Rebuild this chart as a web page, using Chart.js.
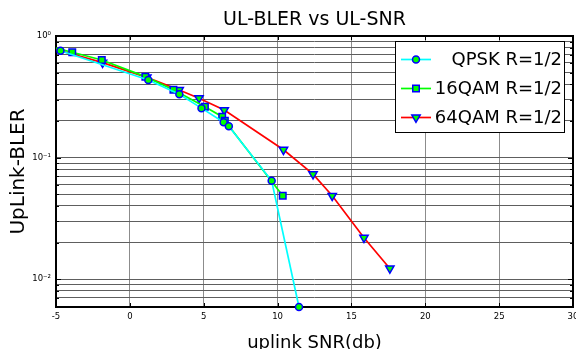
<!DOCTYPE html>
<html><head><meta charset="utf-8">
<script src="https://cdn.jsdelivr.net/npm/chart.js@4/dist/chart.umd.min.js"></script>
<style>html,body{margin:0;padding:0;background:#fff;overflow:hidden;}</style>
</head><body>
<canvas id="c" width="576" height="349"></canvas>
<script>
const chartTitle = 'UL-BLER vs UL-SNR';
const xAxisTitle = 'uplink SNR(db)';
const yAxisTitle = 'UpLink-BLER';
const seriesNames = ['QPSK R=1/2', '16QAM R=1/2', '64QAM R=1/2'];

const qpskSnr  = [-4.7, 1.25, 3.35, 4.85, 6.35, 6.7, 9.6, 11.45];
const qpskBler = [0.757, 0.435, 0.332, 0.255, 0.195, 0.181, 0.0644, 0.0059];

const qam16Snr  = [-5.4, -3.9, -1.9, 1.05, 2.95, 5.08, 6.25, 6.43, 10.35];
const qam16Bler = [0.82, 0.735, 0.635, 0.463, 0.362, 0.262, 0.217, 0.201, 0.0485];

const qam64Snr  = [-5.4, -1.85, 1.15, 3.34, 4.68, 6.39, 10.4, 12.4, 13.7, 15.85, 17.6];
const qam64Bler = [0.80, 0.604, 0.457, 0.36, 0.308, 0.246, 0.116, 0.073, 0.0485, 0.0219, 0.01225];

const xTickValues = [-5, 0, 5, 10, 15, 20, 25, 30];
const yTickValues = [0.006, 0.007, 0.008, 0.009, 0.01, 0.02, 0.03, 0.04, 0.05, 0.06, 0.07, 0.08, 0.09,
                     0.1, 0.2, 0.3, 0.4, 0.5, 0.6, 0.7, 0.8, 0.9, 1];
const yMajorValues = [1, 0.1, 0.01];
const yMajorLabels = ['10\u2070', '10\u207B\u00B9', '10\u207B\u00B2'];

const FONT = 'DejaVu Sans';
const toPts = (xs, ys) => xs.map((x, i) => ({x: x, y: ys[i]}));
const markerFill = '#00ff00', markerEdge = '#0000ff';
const clipBox = {left: 0, top: 6, right: 6, bottom: 6};

const styles = [
  {line: '#00ffff', pointStyle: 'circle', radius: 3.5, rotation: 0},
  {line: '#00ff00', pointStyle: 'rect', radius: 4.6, rotation: 0},
  {line: '#ff0000', pointStyle: 'triangle', radius: 4.8, rotation: 180}
];
const seriesData = [toPts(qpskSnr, qpskBler), toPts(qam16Snr, qam16Bler), toPts(qam64Snr, qam64Bler)];

const datasets = seriesData.map((d, i) => ({
  label: seriesNames[i],
  data: d,
  borderColor: styles[i].line,
  borderWidth: 1.7,
  tension: 0,
  fill: false,
  pointStyle: styles[i].pointStyle,
  pointRadius: styles[i].radius,
  pointRotation: styles[i].rotation,
  pointBackgroundColor: markerFill,
  pointBorderColor: markerEdge,
  pointBorderWidth: 1.5,
  clip: clipBox
}));

function drawMarker(ctx, st, x, y) {
  ctx.save();
  ctx.fillStyle = markerFill;
  ctx.strokeStyle = markerEdge;
  ctx.lineWidth = 1.5;
  Chart.helpers.drawPoint(ctx, {pointStyle: st.pointStyle, radius: st.radius, rotation: st.rotation, borderWidth: 1.5}, x, y);
  ctx.restore();
}

const boxPlugin = {
  id: 'axesBox',
  beforeDatasetsDraw(chart) {
    const ctx = chart.ctx, a = chart.chartArea;
    const xs = chart.scales.x, ys = chart.scales.y;
    ctx.save();
    ctx.strokeStyle = '#000';
    ctx.lineWidth = 1;
    ctx.beginPath();
    xTickValues.forEach(v => {
      const px = Math.round(xs.getPixelForValue(v)) + 0.5;
      ctx.moveTo(px, a.bottom); ctx.lineTo(px, a.bottom - 4);
      ctx.moveTo(px, a.top); ctx.lineTo(px, a.top + 4);
    });
    yTickValues.forEach(v => {
      const py = Math.round(ys.getPixelForValue(v)) + 0.5;
      const len = yMajorValues.indexOf(v) >= 0 ? 5 : 3;
      ctx.moveTo(a.left, py); ctx.lineTo(a.left + len, py);
      ctx.moveTo(a.right, py); ctx.lineTo(a.right - len, py);
    });
    ctx.stroke();
    ctx.lineWidth = 2;
    ctx.strokeRect(a.left, a.top, a.right - a.left, a.bottom - a.top);
    ctx.restore();
  }
};

const legendPlugin = {
  id: 'boxLegend',
  afterDatasetsDraw(chart) {
    const ctx = chart.ctx, a = chart.chartArea;
    const right = a.right - 9, left = right - 169, top = a.top + 5, h = 91;
    ctx.save();
    ctx.fillStyle = '#fff';
    ctx.fillRect(left, top, right - left, h);
    ctx.strokeStyle = '#000';
    ctx.lineWidth = 1;
    ctx.strokeRect(left + 0.5, top + 0.5, right - left, h);
    const rows = [18.5, 47.5, 76.5];
    chart.data.datasets.forEach((ds, i) => {
      const y = top + rows[i];
      ctx.strokeStyle = ds.borderColor;
      ctx.lineWidth = 1.7;
      ctx.beginPath();
      ctx.moveTo(left + 6, y); ctx.lineTo(left + 36, y);
      ctx.stroke();
      drawMarker(ctx, styles[i], left + 21, y);
      ctx.fillStyle = '#000';
      ctx.font = '18px "' + FONT + '"';
      ctx.textAlign = 'right';
      ctx.textBaseline = 'middle';
      ctx.fillText(ds.label, right - 2, y + 0.5);
    });
    ctx.restore();
  }
};

new Chart(document.getElementById('c').getContext('2d'), {
  type: 'line',
  data: {datasets: datasets},
  options: {
    responsive: false,
    animation: false,
    devicePixelRatio: 1,
    layout: {autoPadding: false, padding: {left: 0, right: 3, top: 0, bottom: 0}},
    plugins: {
      legend: {display: false},
      tooltip: {enabled: false},
      title: {
        display: true, text: chartTitle, fullSize: false, color: '#000',
        font: {family: FONT, size: 19, weight: 'normal'},
        padding: {top: 8.6, bottom: 4.6}
      }
    },
    scales: {
      x: {
        type: 'linear', min: -5, max: 30,
        afterBuildTicks: s => { s.ticks = xTickValues.map(v => ({value: v})); },
        afterFit: s => { s.height = 42; s.paddingLeft = 0; s.paddingRight = 0; },
        ticks: {color: '#000', font: {family: FONT, size: 8.5}, padding: 5, autoSkip: false, maxRotation: 0,
                callback: v => String(v)},
        grid: {color: '#8c8c8c', lineWidth: 1, drawTicks: false},
        border: {display: false},
        title: {display: true, text: xAxisTitle, color: '#000', font: {family: FONT, size: 18},
                padding: {top: 0, bottom: -5}}
      },
      y: {
        type: 'logarithmic', min: 0.0059, max: 1,
        afterBuildTicks: s => { s.ticks = yTickValues.map(v => ({value: v, major: yMajorValues.indexOf(v) >= 0})); },
        afterFit: s => { s.width = 56; s.paddingTop = 0; s.paddingBottom = 0; },
        ticks: {color: '#000', font: {family: FONT, size: 8.5}, padding: 5, autoSkip: false,
                callback: v => { const i = yMajorValues.findIndex(m => Math.abs(m - v) < 1e-9); return i >= 0 ? yMajorLabels[i] : ''; }},
        grid: {color: '#5e5e5e', lineWidth: 1, drawTicks: false},
        border: {display: false},
        title: {display: true, text: yAxisTitle, color: '#000', font: {family: FONT, size: 20},
                padding: {top: 6.5, bottom: 0}}
      }
    }
  },
  plugins: [boxPlugin, legendPlugin]
});
</script>
</body></html>
